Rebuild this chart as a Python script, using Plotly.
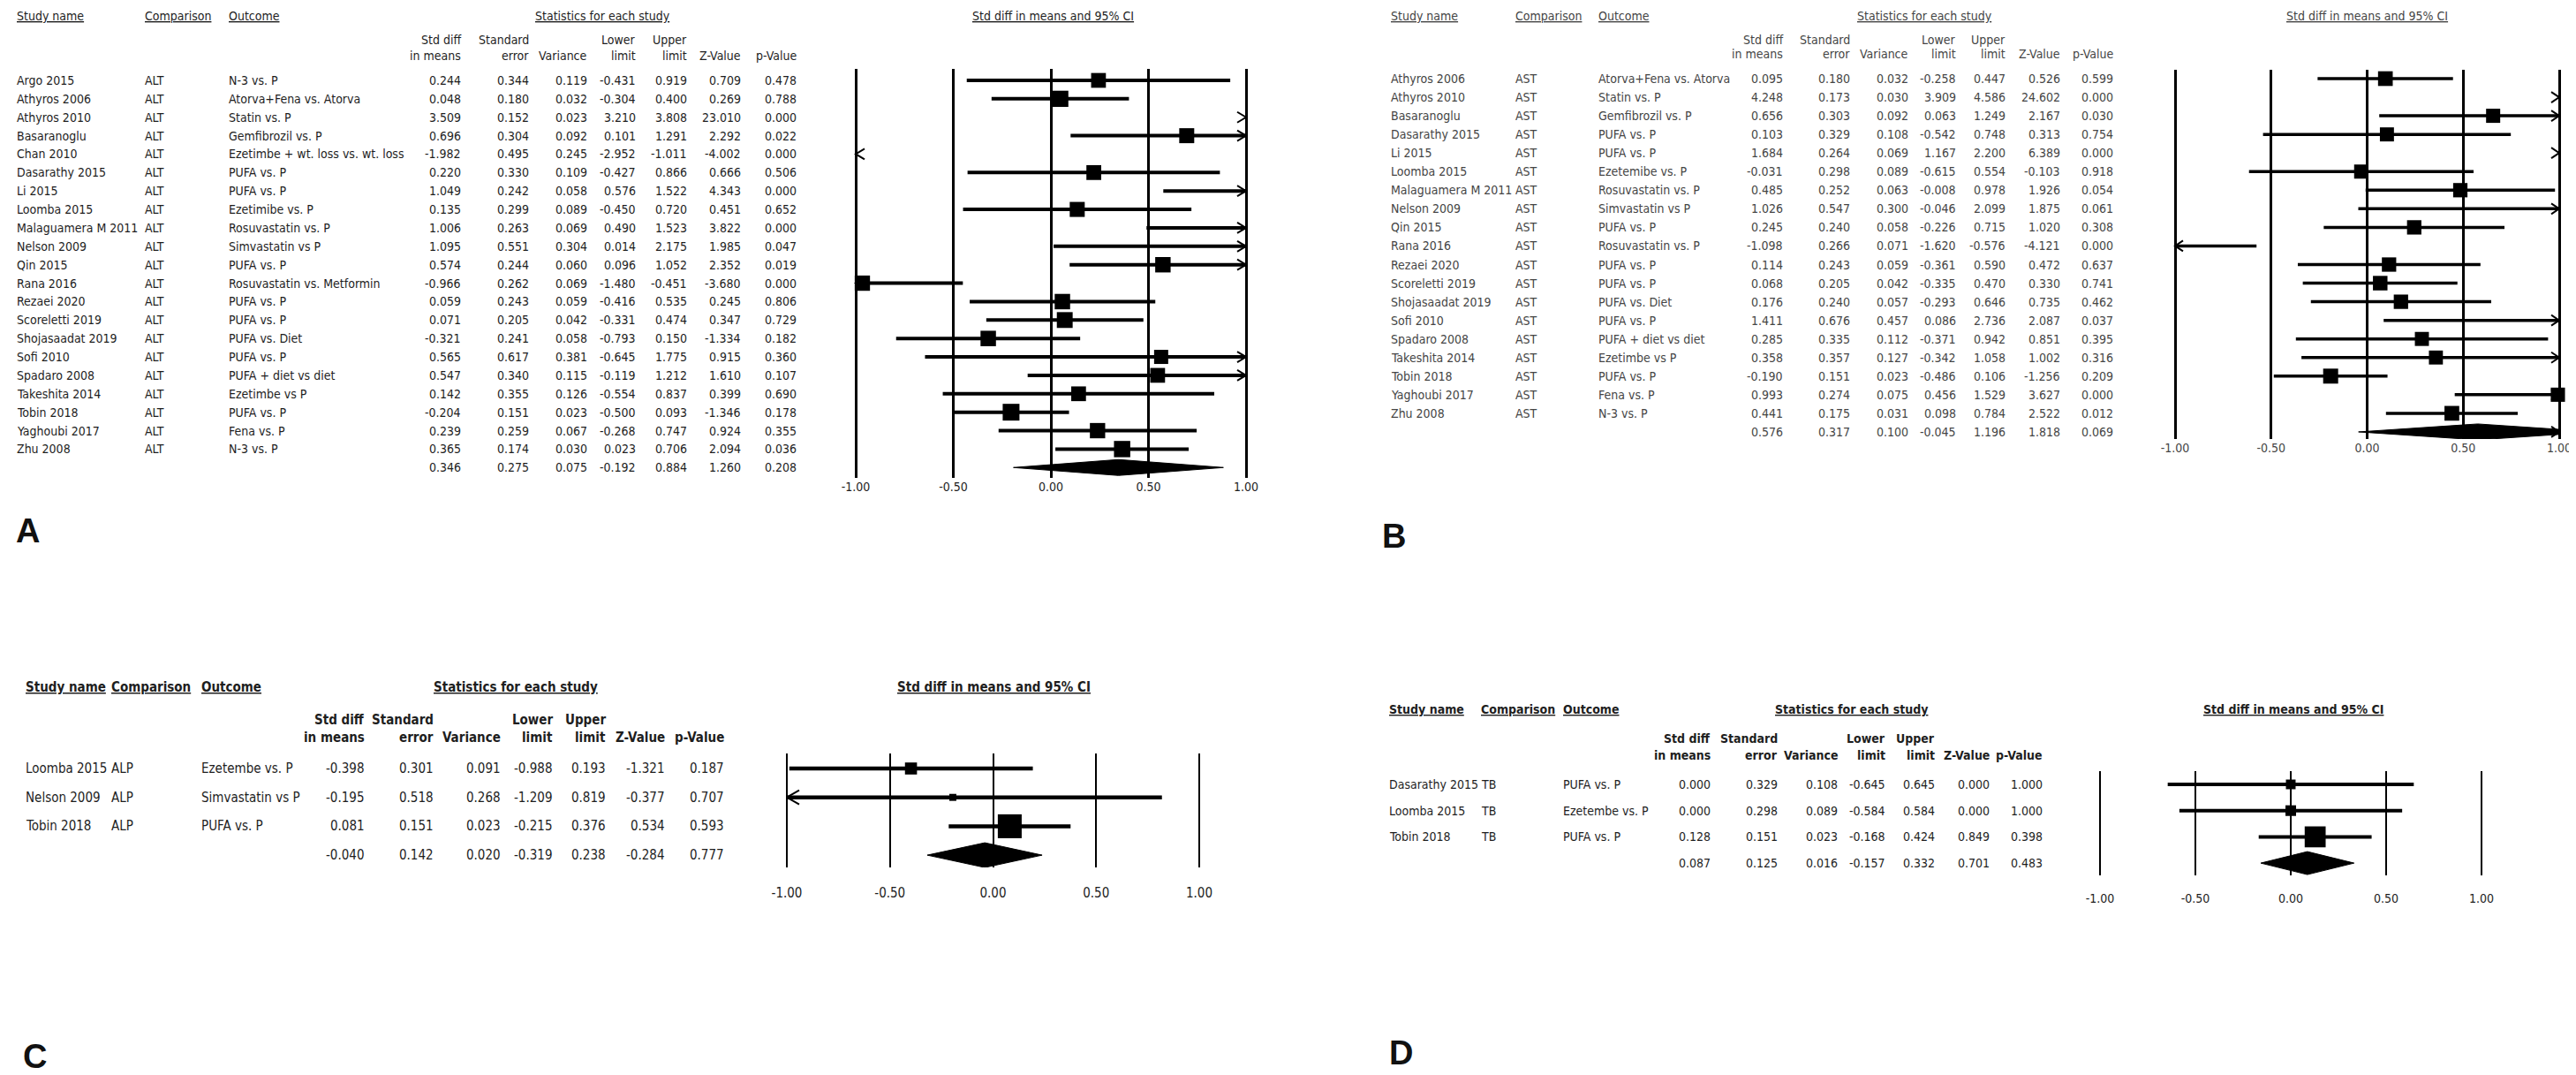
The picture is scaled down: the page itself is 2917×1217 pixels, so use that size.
import plotly.graph_objects as go

# ===================== DATA =====================
# ---- Panel A : ALT ----
a_study = ["Argo 2015", "Athyros 2006", "Athyros 2010", "Basaranoglu", "Chan 2010", "Dasarathy 2015",
           "Li 2015", "Loomba 2015", "Malaguamera M 2011", "Nelson 2009", "Qin 2015", "Rana 2016",
           "Rezaei 2020", "Scoreletti 2019", "Shojasaadat 2019", "Sofi 2010", "Spadaro 2008",
           "Takeshita 2014", "Tobin 2018", "Yaghoubi 2017", "Zhu 2008"]
a_comparison = "ALT"
a_outcome = ["N-3 vs. P", "Atorva+Fena vs. Atorva", "Statin vs. P", "Gemfibrozil vs. P",
             "Ezetimbe + wt. loss vs. wt. loss", "PUFA vs. P", "PUFA vs. P", "Ezetimibe vs. P",
             "Rosuvastatin vs. P", "Simvastatin vs P", "PUFA vs. P", "Rosuvastatin vs. Metformin",
             "PUFA vs. P", "PUFA vs. P", "PUFA vs. Diet", "PUFA vs. P", "PUFA + diet vs diet",
             "Ezetimbe vs P", "PUFA vs. P", "Fena vs. P", "N-3 vs. P"]
a_smd = [0.244, 0.048, 3.509, 0.696, -1.982, 0.220, 1.049, 0.135, 1.006, 1.095, 0.574, -0.966,
         0.059, 0.071, -0.321, 0.565, 0.547, 0.142, -0.204, 0.239, 0.365]
a_se = [0.344, 0.180, 0.152, 0.304, 0.495, 0.330, 0.242, 0.299, 0.263, 0.551, 0.244, 0.262,
        0.243, 0.205, 0.241, 0.617, 0.340, 0.355, 0.151, 0.259, 0.174]
a_var = [0.119, 0.032, 0.023, 0.092, 0.245, 0.109, 0.058, 0.089, 0.069, 0.304, 0.060, 0.069,
         0.059, 0.042, 0.058, 0.381, 0.115, 0.126, 0.023, 0.067, 0.030]
a_lower = [-0.431, -0.304, 3.210, 0.101, -2.952, -0.427, 0.576, -0.450, 0.490, 0.014, 0.096, -1.480,
           -0.416, -0.331, -0.793, -0.645, -0.119, -0.554, -0.500, -0.268, 0.023]
a_upper = [0.919, 0.400, 3.808, 1.291, -1.011, 0.866, 1.522, 0.720, 1.523, 2.175, 1.052, -0.451,
           0.535, 0.474, 0.150, 1.775, 1.212, 0.837, 0.093, 0.747, 0.706]
a_z = [0.709, 0.269, 23.010, 2.292, -4.002, 0.666, 4.343, 0.451, 3.822, 1.985, 2.352, -3.680,
       0.245, 0.347, -1.334, 0.915, 1.610, 0.399, -1.346, 0.924, 2.094]
a_p = [0.478, 0.788, 0.000, 0.022, 0.000, 0.506, 0.000, 0.652, 0.000, 0.047, 0.019, 0.000,
       0.806, 0.729, 0.182, 0.360, 0.107, 0.690, 0.178, 0.355, 0.036]
a_summary = [0.346, 0.275, 0.075, -0.192, 0.884, 1.260, 0.208]

# ---- Panel B : AST ----
b_study = ["Athyros 2006", "Athyros 2010", "Basaranoglu", "Dasarathy 2015", "Li 2015", "Loomba 2015",
           "Malaguamera M 2011", "Nelson 2009", "Qin 2015", "Rana 2016", "Rezaei 2020",
           "Scoreletti 2019", "Shojasaadat 2019", "Sofi 2010", "Spadaro 2008", "Takeshita 2014",
           "Tobin 2018", "Yaghoubi 2017", "Zhu 2008"]
b_comparison = "AST"
b_outcome = ["Atorva+Fena vs. Atorva", "Statin vs. P", "Gemfibrozil vs. P", "PUFA vs. P", "PUFA vs. P",
             "Ezetemibe vs. P", "Rosuvastatin vs. P", "Simvastatin vs P", "PUFA vs. P",
             "Rosuvastatin vs. P", "PUFA vs. P", "PUFA vs. P", "PUFA vs. Diet", "PUFA vs. P",
             "PUFA + diet vs diet", "Ezetimbe vs P", "PUFA vs. P", "Fena vs. P", "N-3 vs. P"]
b_smd = [0.095, 4.248, 0.656, 0.103, 1.684, -0.031, 0.485, 1.026, 0.245, -1.098, 0.114, 0.068,
         0.176, 1.411, 0.285, 0.358, -0.190, 0.993, 0.441]
b_se = [0.180, 0.173, 0.303, 0.329, 0.264, 0.298, 0.252, 0.547, 0.240, 0.266, 0.243, 0.205,
        0.240, 0.676, 0.335, 0.357, 0.151, 0.274, 0.175]
b_var = [0.032, 0.030, 0.092, 0.108, 0.069, 0.089, 0.063, 0.300, 0.058, 0.071, 0.059, 0.042,
         0.057, 0.457, 0.112, 0.127, 0.023, 0.075, 0.031]
b_lower = [-0.258, 3.909, 0.063, -0.542, 1.167, -0.615, -0.008, -0.046, -0.226, -1.620, -0.361,
           -0.335, -0.293, 0.086, -0.371, -0.342, -0.486, 0.456, 0.098]
b_upper = [0.447, 4.586, 1.249, 0.748, 2.200, 0.554, 0.978, 2.099, 0.715, -0.576, 0.590, 0.470,
           0.646, 2.736, 0.942, 1.058, 0.106, 1.529, 0.784]
b_z = [0.526, 24.602, 2.167, 0.313, 6.389, -0.103, 1.926, 1.875, 1.020, -4.121, 0.472, 0.330,
       0.735, 2.087, 0.851, 1.002, -1.256, 3.627, 2.522]
b_p = [0.599, 0.000, 0.030, 0.754, 0.000, 0.918, 0.054, 0.061, 0.308, 0.000, 0.637, 0.741,
       0.462, 0.037, 0.395, 0.316, 0.209, 0.000, 0.012]
b_summary = [0.576, 0.317, 0.100, -0.045, 1.196, 1.818, 0.069]

# ---- Panel C : ALP ----
c_study = ["Loomba 2015", "Nelson 2009", "Tobin 2018"]
c_comparison = "ALP"
c_outcome = ["Ezetembe vs. P", "Simvastatin vs P", "PUFA vs. P"]
c_smd = [-0.398, -0.195, 0.081]
c_se = [0.301, 0.518, 0.151]
c_var = [0.091, 0.268, 0.023]
c_lower = [-0.988, -1.209, -0.215]
c_upper = [0.193, 0.819, 0.376]
c_z = [-1.321, -0.377, 0.534]
c_p = [0.187, 0.707, 0.593]
c_summary = [-0.040, 0.142, 0.020, -0.319, 0.238, -0.284, 0.777]

# ---- Panel D : TB ----
d_study = ["Dasarathy 2015", "Loomba 2015", "Tobin 2018"]
d_comparison = "TB"
d_outcome = ["PUFA vs. P", "Ezetembe vs. P", "PUFA vs. P"]
d_smd = [0.000, 0.000, 0.128]
d_se = [0.329, 0.298, 0.151]
d_var = [0.108, 0.089, 0.023]
d_lower = [-0.645, -0.584, -0.168]
d_upper = [0.645, 0.584, 0.424]
d_z = [0.000, 0.000, 0.849]
d_p = [1.000, 1.000, 0.398]
d_summary = [0.087, 0.125, 0.016, -0.157, 0.332, 0.701, 0.483]

tick_vals = [-1.0, -0.5, 0.0, 0.5, 1.0]
tick_text = ["-1.00", "-0.50", "0.00", "0.50", "1.00"]
col_head_top = ["Std diff", "Standard", "", "Lower", "Upper", "", ""]
col_head_bot = ["in means", "error", "Variance", "limit", "limit", "Z-Value", "p-Value"]

# ===================== LAYOUT GEOMETRY (pixels) =====================
W, H = 2917, 1217
NARROW = "DejaVu Sans Condensed, Liberation Sans Narrow, Arial Narrow, sans-serif"
BOLDF = "Liberation Sans, Arial, sans-serif"


def px(x):
    return x / W


def py(y):
    return 1 - y / H


panels = [
    dict(letter="A", lx=10, ly=593, name_x=11, comp_x=156, out_x=251, stats_c=674,
         col_right=[514, 591, 657, 712, 770, 831, 894], head_y=10, ch_y=(37, 55),
         row0=83, dy=20.87, fx_m1=961, fx_p1=1403, line_top=70, line_bot=533, ticklen=0,
         title_c=1184, fs=14, color="#1e1e1e", bold=False, gw=3, lw=4, aw=10, ah=6, dh=9,
         sq=lambda se, var: 15 + 0.6 / se,
         study=a_study, comp=a_comparison, outc=a_outcome, smd=a_smd, se=a_se, var=a_var,
         lower=a_lower, upper=a_upper, z=a_z, p=a_p, summ=a_summary),
    dict(letter="B", lx=1557, ly=599, name_x=1567, comp_x=1708, out_x=1802, stats_c=2171,
         col_right=[2011, 2087, 2153, 2207, 2263, 2325, 2385], head_y=10, ch_y=(37, 53),
         row0=81, dy=21.05, fx_m1=2455, fx_p1=2890, line_top=71, line_bot=489, ticklen=0,
         title_c=2672, fs=14, color="#454545", bold=False, gw=3, lw=3.5, aw=9, ah=6, dh=9,
         sq=lambda se, var: 15 + 0.3 / se,
         study=b_study, comp=b_comparison, outc=b_outcome, smd=b_smd, se=b_se, var=b_var,
         lower=b_lower, upper=b_upper, z=b_z, p=b_p, summ=b_summary),
    dict(letter="C", lx=18, ly=1188, name_x=21, comp_x=118, out_x=220, stats_c=576,
         col_right=[405, 483, 559, 618, 678, 745, 812], head_y=770, ch_y=(807, 827),
         row0=862, dy=32.7, fx_m1=883, fx_p1=1350, line_top=845, line_bot=974, ticklen=15,
         title_c=1117, fs=15, color="#1e1e1e", bold=True, gw=2, lw=4.5, aw=14, ah=8, dh=14,
         sq=lambda se, var: 4.1 * (1 / var) ** 0.5,
         study=c_study, comp=c_comparison, outc=c_outcome, smd=c_smd, se=c_se, var=c_var,
         lower=c_lower, upper=c_upper, z=c_z, p=c_p, summ=c_summary),
    dict(letter="D", lx=1565, ly=1184, name_x=1565, comp_x=1669, out_x=1762, stats_c=2088,
         col_right=[1929, 2005, 2073, 2127, 2183, 2245, 2305], head_y=795, ch_y=(828, 847),
         row0=880, dy=29.7, fx_m1=2370, fx_p1=2802, line_top=865, line_bot=983, ticklen=13,
         title_c=2589, fs=14, color="#1e1e1e", bold=True, gw=2, lw=4, aw=12, ah=7, dh=13,
         sq=lambda se, var: 3.6 * (1 / var) ** 0.5,
         study=d_study, comp=d_comparison, outc=d_outcome, smd=d_smd, se=d_se, var=d_var,
         lower=d_lower, upper=d_upper, z=d_z, p=d_p, summ=d_summary),
]

fig = go.Figure()
annotations = []


def T(x, y, text, size, color, anchor="left", family=NARROW):
    annotations.append(dict(x=px(x), y=py(y), xref="paper", yref="paper", text=text,
                            showarrow=False, xanchor=anchor, yanchor="middle",
                            borderpad=0, borderwidth=0,
                            font=dict(size=size, color=color, family=family)))


axes = {}
for k, P in enumerate(panels, start=1):
    xa = "x" if k == 1 else f"x{k}"
    ya = "y" if k == 1 else f"y{k}"
    fs, col = P["fs"], P["color"]

    def hd(s):
        return f"<b><u>{s}</u></b>" if P["bold"] else f"<u>{s}</u>"

    def bt(s):
        return f"<b>{s}</b>" if P["bold"] else s

    # ---- headers ----
    T(P["name_x"], P["head_y"], hd("Study name"), fs, col)
    T(P["comp_x"], P["head_y"], hd("Comparison"), fs, col)
    T(P["out_x"], P["head_y"], hd("Outcome"), fs, col)
    T(P["stats_c"], P["head_y"], hd("Statistics for each study"), fs, col, "center")
    T(P["title_c"], P["head_y"], hd("Std diff in means and 95% CI"), fs, col, "center")
    for cr, t1, t2 in zip(P["col_right"], col_head_top, col_head_bot):
        if t1:
            T(cr, P["ch_y"][0], bt(t1), fs, col, "right")
        T(cr, P["ch_y"][1], bt(t2), fs, col, "right")

    # ---- table rows ----
    n = len(P["study"])
    cols = [P["smd"], P["se"], P["var"], P["lower"], P["upper"], P["z"], P["p"]]
    for i in range(n):
        yy = P["row0"] + i * P["dy"]
        T(P["name_x"], yy, P["study"][i], fs, col)
        T(P["comp_x"], yy, P["comp"], fs, col)
        T(P["out_x"], yy, P["outc"][i], fs, col)
        for cr, c in zip(P["col_right"], cols):
            T(cr, yy, f"{c[i]:.3f}", fs, col, "right")
    yy = P["row0"] + n * P["dy"]
    for cr, v in zip(P["col_right"], P["summ"]):
        T(cr, yy, f"{v:.3f}", fs, col, "right")

    # panel letter
    T(P["lx"], P["ly"], f"<b>{P['letter']}</b>", 38, "#111", "left", BOLDF)

    # ---- forest axes ----
    u = (P["fx_p1"] - P["fx_m1"]) / 2.0
    pad = 0.12
    xdom = [px(P["fx_m1"] - pad * u), px(P["fx_p1"] + pad * u)]
    ydom = [py(P["line_bot"]), py(P["line_top"])]
    v_top = (P["line_top"] - P["row0"]) / P["dy"]
    v_bot = (P["line_bot"] - P["row0"]) / P["dy"]
    axes["xaxis" if k == 1 else f"xaxis{k}"] = dict(
        domain=xdom, range=[-1 - pad, 1 + pad], anchor=ya, tickvals=tick_vals, ticktext=tick_text,
        showgrid=True, gridcolor="#000", gridwidth=P["gw"], zeroline=False, showline=False,
        ticks="outside" if P["ticklen"] > 0 else "", ticklen=max(P["ticklen"], 1),
        tickcolor="rgba(0,0,0,0)",
        tickfont=dict(family=NARROW, size=fs, color=col), fixedrange=True)
    axes["yaxis" if k == 1 else f"yaxis{k}"] = dict(
        domain=ydom, range=[v_bot, v_top], anchor=xa, visible=False, showgrid=False,
        zeroline=False, fixedrange=True)

    aw = P["aw"] / u
    ah = P["ah"] / P["dy"]
    lx, ly, hx, hy = [], [], [], []

    def arrows(i, lo, hi):
        if hi > 1:
            hx.extend([1 - aw, 1, 1 - aw, None])
            hy.extend([i - ah, i, i + ah, None])
        if lo < -1:
            hx.extend([-1 + aw, -1, -1 + aw, None])
            hy.extend([i - ah, i, i + ah, None])

    for i, (lo, hi) in enumerate(zip(P["lower"], P["upper"])):
        l, h = max(lo, -1.0), min(hi, 1.0)
        if l < h:
            lx.extend([l, h, None])
            ly.extend([i, i, None])
        arrows(i, lo, hi)

    fig.add_trace(go.Scatter(x=lx, y=ly, mode="lines", line=dict(color="#000", width=P["lw"]),
                             xaxis=xa, yaxis=ya, hoverinfo="skip"))

    # squares (weight-scaled)
    sx, sy, ss = [], [], []
    for i, (m, se, vr) in enumerate(zip(P["smd"], P["se"], P["var"])):
        if -1 <= m <= 1:
            sx.append(m)
            sy.append(i)
            ss.append(P["sq"](se, vr))
    fig.add_trace(go.Scatter(x=sx, y=sy, mode="markers",
                             marker=dict(symbol="square", size=ss, color="#000", opacity=1,
                                         line=dict(width=0)),
                             xaxis=xa, yaxis=ya, cliponaxis=False, hoverinfo="skip"))

    # summary diamond (clipped to the axis span)
    est, slo, shi = P["summ"][0], P["summ"][3], P["summ"][4]
    dh = P["dh"] / P["dy"]

    def half(x):
        if x <= est:
            return dh * (x - slo) / (est - slo)
        return dh * (shi - x) / (shi - est)

    pts = [max(slo, -1.0)]
    if -1 < est < 1:
        pts.append(est)
    pts.append(min(shi, 1.0))
    dx = pts + pts[::-1] + [pts[0]]
    dyv = [n - half(x) for x in pts] + [n + half(x) for x in pts[::-1]] + [n - half(pts[0])]
    fig.add_trace(go.Scatter(x=dx, y=dyv, mode="lines", fill="toself", fillcolor="#000",
                             line=dict(color="#000", width=1), xaxis=xa, yaxis=ya, hoverinfo="skip"))
    arrows(n, slo, shi)

    fig.add_trace(go.Scatter(x=hx, y=hy, mode="lines", line=dict(color="#000", width=2),
                             xaxis=xa, yaxis=ya, cliponaxis=False, hoverinfo="skip"))

fig.update_layout(width=W, height=H, margin=dict(l=0, r=0, t=0, b=0), paper_bgcolor="white",
                  plot_bgcolor="white", showlegend=False, annotations=annotations, **axes)
fig.write_html("out.html")
